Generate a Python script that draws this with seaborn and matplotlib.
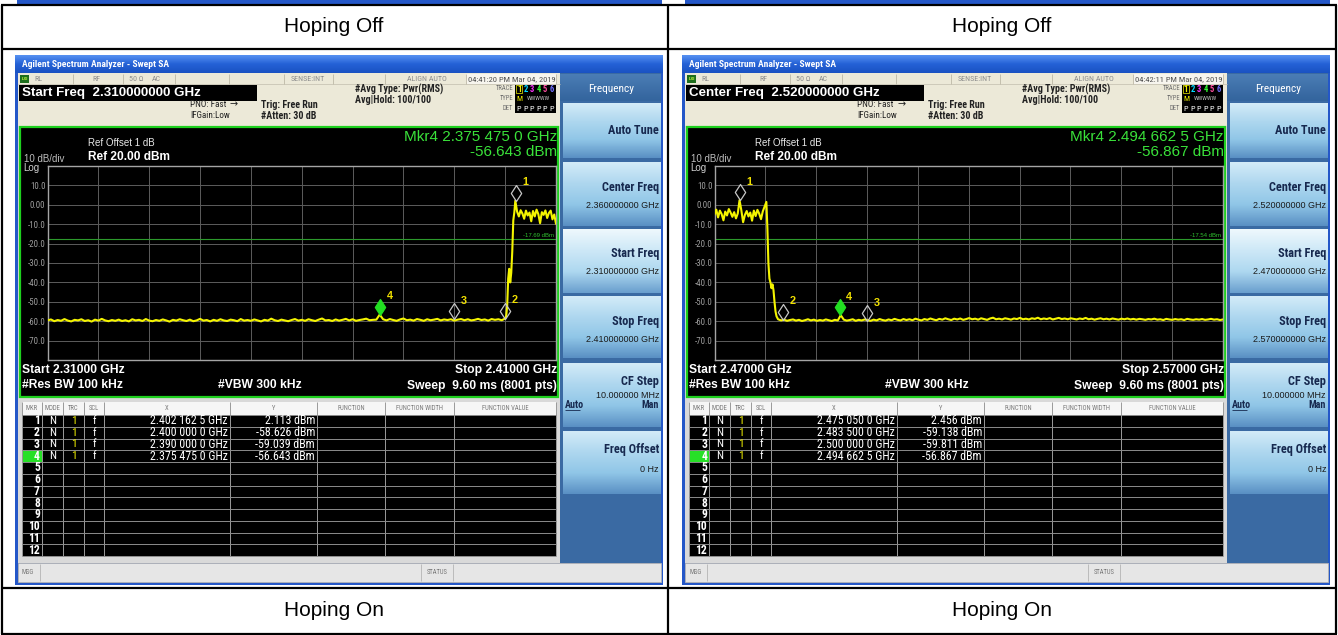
import numpy as np
import matplotlib
matplotlib.use("Agg")
import matplotlib.pyplot as plt
import seaborn as sns
from matplotlib import font_manager
from matplotlib.colors import to_rgb
from matplotlib.markers import MarkerStyle
from matplotlib.path import Path
from matplotlib.patches import Rectangle

sns.set_style("white")

# ---------------- values ----------------
captions_top = ["Hoping Off", "Hoping Off"]
captions_bottom = ["Hoping On", "Hoping On"]

# left screen (2.31 - 2.41 GHz)
L_span = [2.31, 2.41]
L_clock = "04:41:20 PM Mar 04, 2019"
L_active = "Start Freq  2.310000000 GHz"
L_keys = ["2.360000000 GHz", "2.310000000 GHz", "2.410000000 GHz"]
L_dl = -17.69
L_mk_f = [2.4021625, 2.4000000, 2.3900000, 2.3754750]
L_mk_v = [2.113, -58.626, -59.039, -56.643]
L_floor_end = 2.4000
L_floor = [
    -59.6, -59.1, -60.0, -59.4, -59.8, -58.9, -59.7, -60.1, -59.3, -59.6, -59.0, -59.9, -59.5, -60.2, -59.2, -59.7, -58.8, -59.6, -60.0, -59.4,
    -59.8, -59.2, -59.9, -59.5, -60.1, -59.0, -59.6, -59.3, -59.9, -58.9, -59.7, -60.0, -59.4, -59.8, -59.1, -59.6, -60.2, -59.3, -59.7, -59.0,
    -59.5, -59.9, -59.2, -60.0, -59.6, -58.8, -59.7, -59.4, -60.1, -59.3, -59.8, -59.0, -59.6, -59.9, -59.2, -59.5, -60.0, -58.9, -59.7, -59.4,
    -59.8, -59.1, -59.6, -60.1, -59.3, -59.7, -58.7, -59.5, -59.9, -59.2, -59.6, -60.0, -59.4, -58.9, -59.7, -59.3, -59.8, -59.0, -59.5, -59.9,
    -59.2, -58.6, -59.6, -59.4, -59.9, -59.1, -59.7, -59.3, -58.8, -59.6, -59.0, -59.8, -59.4, -59.1, -58.7, -59.5, -59.3, -59.2, -56.6, -59.0,
    -59.6, -58.9, -59.4, -59.8, -59.1, -58.6, -59.5, -59.2, -59.7, -58.9, -59.3, -59.8, -59.0, -59.5, -59.2, -58.8, -59.6, -59.1, -59.4, -59.0,
    -59.7, -59.2, -58.9, -59.5, -59.0, -59.6, -59.3, -58.8, -59.4, -59.1, -59.7, -58.9, -59.3, -59.0, -59.5, -58.6]
L_edge_f = [2.4002, 2.4004, 2.4006, 2.4008, 2.4010, 2.4012, 2.4014, 2.4016, 2.4018]
L_edge_v = [-57.5, -52.0, -38.0, -33.0, -40.0, -35.0, -24.0, -8.0, -4.0]
L_band_start = 2.4020
L_band = [2.1, -3.5, -6.0, -2.8, -4.5, -7.2, -3.0, -5.5, -4.0, -8.5, -3.2, -6.0,
          -2.5, -4.8, -9.5, -3.8, -5.2, -2.9, -6.8, -4.2, -3.0, -7.5, -5.0, -9.8]

# right screen (2.47 - 2.57 GHz)
R_span = [2.47, 2.57]
R_clock = "04:42:11 PM Mar 04, 2019"
R_active = "Center Freq  2.520000000 GHz"
R_keys = ["2.520000000 GHz", "2.470000000 GHz", "2.570000000 GHz"]
R_dl = -17.54
R_mk_f = [2.4750500, 2.4835000, 2.5000000, 2.4946625]
R_mk_v = [2.456, -59.138, -59.811, -56.867]
R_band_end = 2.4802
R_band = [-5.0, -2.5, -6.5, -3.0, -4.8, -8.0, -3.5, -5.5, -2.2, -4.0, -6.2, -3.8, -7.0, -4.5, 2.4,
          -2.8, -9.0, -5.2, -3.2, -6.0, -4.0, -8.2, -3.0, -5.8, -2.6, -4.6, -7.4, -3.4, -1.0, 1.5]
R_edge_f = [2.4804, 2.4806, 2.4808, 2.4810, 2.4812, 2.4814, 2.4816, 2.4818, 2.4820, 2.4822]
R_edge_v = [-12.0, -30.0, -38.0, -40.0, -43.0, -41.0, -44.0, -50.0, -55.0, -57.5]
R_floor_start = 2.4825
R_floor = [
    -59.0, -59.6, -59.2, -59.8, -59.4, -59.1, -59.7, -59.3, -59.9, -59.5, -59.0, -59.6, -59.2, -59.8, -59.4, -59.7, -59.1, -59.5, -59.9, -59.3,
    -59.6, -56.9, -59.2, -59.7, -59.4, -59.0, -59.8, -59.3, -59.6, -59.1, -59.5, -59.8, -59.2, -59.6, -58.9, -59.4, -59.7, -59.1, -59.5, -58.8,
    -59.3, -59.6, -58.9, -59.4, -59.0, -59.5, -58.7, -59.2, -59.6, -58.9, -59.3, -58.6, -59.1, -59.5, -58.8, -59.2, -58.5, -59.0, -59.4, -58.7,
    -59.1, -58.6, -59.3, -58.9, -58.4, -59.0, -58.7, -59.2, -58.5, -58.9, -59.3, -58.6, -58.2, -59.0, -58.7, -59.1, -58.5, -58.8, -59.2, -58.6,
    -58.9, -58.3, -59.0, -58.7, -59.1, -58.5, -58.8, -58.2, -59.0, -58.6, -58.9, -58.4, -59.1, -58.7, -58.3, -58.9, -58.6, -59.0, -58.5, -58.8,
    -59.1, -58.6, -58.9, -58.3, -59.0, -58.7, -59.2, -58.8, -58.5, -59.0, -58.7, -59.1, -58.6, -58.9, -59.2, -58.7, -59.0, -58.6, -59.1, -58.8,
    -59.2, -58.8, -59.0, -59.3, -58.9, -59.1, -58.7, -59.2, -59.0, -59.4, -58.8, -59.1, -59.3, -58.9, -59.2, -59.0, -59.4, -58.8, -59.1, -59.3,
    -59.0, -59.2, -58.9, -59.3, -59.1, -58.8, -59.2, -59.0, -59.4, -59.1]

key_titles = ["Auto Tune", "Center Freq", "Start Freq", "Stop Freq", "CF Step", "Freq Offset"]
tbl_head = ["MKR", "MODE", "TRC", "SCL", "X", "Y", "FUNCTION", "FUNCTION WIDTH", "FUNCTION VALUE"]

# ---------------- fonts ----------------
fonts = font_manager.fontManager.ttflist
names = {f.name for f in fonts}
SANS = "Liberation Sans"
STRETCH = "normal"
for nm in ["Liberation Sans Narrow", "DejaVu Sans Condensed", "Roboto Condensed", "Open Sans Condensed"]:
    if nm in names:
        NARROW, NK = nm, 1.0
        break
else:
    if any(f.name == "DejaVu Sans" and str(f.stretch) in ("condensed", "semi-condensed") for f in fonts):
        NARROW, NK, STRETCH = "DejaVu Sans", 0.9, "condensed"
    else:
        NARROW, NK = "Liberation Sans", 0.88
plt.rcParams["font.family"] = [SANS, "DejaVu Sans"]


def N(s):
    return s * NK


W, H = 1338, 635
fig = plt.figure(figsize=(W / 100, H / 100), dpi=100)
bg = fig.add_axes([0, 0, 1, 1], zorder=0)
bg.axis("off")
bg.set_autoscale_on(False)


def box(x0, y0, x1, y1, fc, ec="none", lw=0, z=1):
    bg.add_patch(Rectangle((x0, y0), x1 - x0, y1 - y0, fc=fc, ec=ec, lw=lw, zorder=z))


def grad(x0, y0, x1, y1, stops, z=1):
    cols = np.array([to_rgb(c) for c in stops])
    t = np.linspace(0, 1, 64)
    pos = np.linspace(0, 1, len(stops))
    img = np.stack([np.interp(t, pos, cols[:, k]) for k in range(3)], axis=1)[:, None, :]
    bg.imshow(img, extent=(x0, x1, y1, y0), aspect="auto", zorder=z, interpolation="bilinear")


def txt(x, y, s, size, color="white", ha="left", weight="normal", fam=None, z=6):
    kw = {"fontstretch": STRETCH} if fam == NARROW else {}
    bg.text(x, y, s, fontsize=size, color=color, ha=ha, va="center", fontweight=weight,
            family=fam or SANS, zorder=z, **kw)


def hline(x0, x1, y, c, lw=0.6, z=3):
    bg.plot([x0, x1], [y, y], color=c, lw=lw, zorder=z, solid_capstyle="butt")


def vline(x, y0, y1, c, lw=0.6, z=3):
    bg.plot([x, x], [y0, y1], color=c, lw=lw, zorder=z, solid_capstyle="butt")


def fmt_f(f):
    s = f"{f:.7f}"
    return f"{s[:5]} {s[5:8]} {s[8:]}"


# diamond marker with its lower tip on the data point
DIAMOND = MarkerStyle(Path([(0, 0), (0.65, 1), (0, 2), (-0.65, 1), (0, 0)],
                           [Path.MOVETO, Path.LINETO, Path.LINETO, Path.LINETO, Path.CLOSEPOLY]))

HDR_SEP = [73, 123, 175, 229, 284, 333, 385, 466, 556]
COLS = [22, 42, 63, 84, 104, 230, 317, 385, 454, 556]
BTN = [(103, 158), (162, 226), (229, 293), (296, 358), (363, 427), (431, 494)]


def screen(ox, clock, active, keys, span, dl, mk_f, mk_v, tf, tv):
    # window frame and title bar
    box(ox + 15, 55, ox + 663, 585, "#2457c8")
    grad(ox + 15, 55, ox + 663, 73, ["#5792f2", "#2461d6", "#1a52c2"])
    txt(ox + 22, 64.5, "Agilent Spectrum Analyzer - Swept SA", N(6.8), "white", weight="bold", fam=NARROW)

    # top status strip
    box(ox + 18, 73, ox + 560, 126, "#ece9d8")
    box(ox + 18, 126, ox + 560, 563, "#d9d9d9")
    hline(ox + 18, ox + 560, 84, "#c9c5b5")
    for sx in HDR_SEP:
        vline(ox + sx, 74, 84, "#bdb8a6")
    box(ox + 466, 74, ox + 556, 84, "#f7f5ee", z=2)
    box(ox + 20, 75, ox + 29, 83, "#1d6e1d", z=2)
    txt(ox + 24.5, 79, "LXI", 3.0, "#c8ff40", ha="center", weight="bold")
    for x, s, ha in [(34, "RL", "left"), (96, "RF", "center"), (136, "50 \u03a9", "center"),
                     (156, "AC", "center"), (308, "SENSE:INT", "center"), (427, "ALIGN AUTO", "center")]:
        txt(ox + x, 79, s, N(5.8), "#8c8c8c", ha=ha, fam=NARROW)
    txt(ox + 468, 79, clock, N(6.1), "#505050", fam=NARROW)

    box(ox + 19, 85, ox + 257, 101, "black", z=2)
    txt(ox + 22, 93, active, 9.6, "white", weight="bold")
    txt(ox + 190, 104.5, "PNO: Fast", N(6.6), "#222222", fam=NARROW)
    bg.text(ox + 230, 104.5, "\u2192", fontsize=7, color="#222222", ha="left", va="center",
            family=["DejaVu Sans"], zorder=6)
    txt(ox + 190, 116, "IFGain:Low", N(6.6), "#222222", fam=NARROW)
    txt(ox + 261, 104.5, "Trig: Free Run", N(7.2), "#222222", weight="bold", fam=NARROW)
    txt(ox + 261, 116, "#Atten: 30 dB", N(7.2), "#222222", weight="bold", fam=NARROW)
    txt(ox + 355, 89, "#Avg Type: Pwr(RMS)", N(7.2), "#222222", weight="bold", fam=NARROW)
    txt(ox + 355, 100, "Avg|Hold: 100/100", N(7.2), "#222222", weight="bold", fam=NARROW)
    for yy, s in [(89, "TRACE"), (99, "TYPE"), (109, "DET")]:
        txt(ox + 513, yy, s, N(4.8), "#6e6e6e", ha="right", fam=NARROW)
    box(ox + 515, 85, ox + 556, 113, "black", z=2)
    for k, c in enumerate(["#f0f000", "#00d8ff", "#ff33ff", "#33ff33", "#ff4fa0", "#6f6fff"]):
        txt(ox + 519 + k * 6.5, 89, str(k + 1), N(6.2), c, ha="center", weight="bold", fam=NARROW)
    bg.add_patch(Rectangle((ox + 516, 85), 6.3, 8, fc="none", ec="#f0f000", lw=0.5, zorder=7))
    txt(ox + 519, 99, "M", N(5.8), "#f0f000", ha="center", fam=NARROW)
    txt(ox + 538.5, 99, "WWWWW", N(4.4), "#bbbbbb", ha="center", fam=NARROW)
    for k in range(6):
        txt(ox + 519 + k * 6.5, 109, "P", N(6.0), "white", ha="center", fam=NARROW)

    # trace display frame
    box(ox + 20, 127, ox + 558, 397, "black", ec="#1ed01e", lw=1.6, z=2)
    txt(ox + 88, 143, "Ref Offset 1 dB", 7.0, "#e8e8e8")
    txt(ox + 24, 158.5, "10 dB/div", 7.0, "#bdbdbd")
    txt(ox + 88, 157, "Ref 20.00 dBm", 8.6, "white", weight="bold")
    txt(ox + 23, 168, "Log", 7.0, "#d0d0d0")
    txt(ox + 557, 137, f"Mkr4 {fmt_f(mk_f[3])} GHz", 11.0, "#3ae23a", ha="right")
    txt(ox + 557, 152.5, f"{mk_v[3]:.3f} dBm", 11.0, "#3ae23a", ha="right")
    txt(ox + 22, 370, f"Start {span[0]:.5f} GHz", 8.7, "white", weight="bold")
    txt(ox + 557, 370, f"Stop {span[1]:.5f} GHz", 8.7, "white", ha="right", weight="bold")
    txt(ox + 22, 385.5, "#Res BW 100 kHz", 8.7, "white", weight="bold")
    txt(ox + 260, 385.5, "#VBW 300 kHz", 8.7, "white", ha="center", weight="bold")
    txt(ox + 557, 385.5, "Sweep  9.60 ms (8001 pts)", 8.7, "white", ha="right", weight="bold")

    gx0, gy0, gx1, gy1 = ox + 47.5, 166, ox + 556, 360
    ax = fig.add_axes([gx0 / W, 1 - gy1 / H, (gx1 - gx0) / W, (gy1 - gy0) / H], zorder=3)
    ax.set_facecolor("black")
    sns.lineplot(x=tf, y=tv, ax=ax, color="#f4f400", linewidth=1.5, estimator=None, sort=False, zorder=3)
    ax.axhline(dl, color="#2c9a2c", lw=0.8, zorder=2)
    ax.text(span[1] - 0.0004, dl + 0.6, f"{dl:.2f} dBm", color="#2fbf2f", fontsize=4.3,
            ha="right", va="bottom", zorder=4)
    for i, (f, v) in enumerate(zip(mk_f, mk_v)):
        active_mk = i == 3
        ax.plot([f], [v], marker=DIAMOND, ms=23, mfc="#22e022" if active_mk else "none",
                mec="#22e022" if active_mk else "#c8c8c8", mew=0.9, ls="none", zorder=5)
        ax.annotate(str(i + 1), (f, v), xytext=(4.5, 11), textcoords="offset points",
                    color="#f0e000", fontsize=7.8, fontweight="bold", zorder=6)
    ax.set_xlim(span)
    ax.set_ylim(-80, 20)
    ax.set_xticks(np.linspace(span[0], span[1], 11))
    ax.set_yticks(np.arange(-80, 21, 10))
    ax.set_xticklabels([])
    ax.set_yticklabels(["" if y in (-80, 20) else ("0.00" if y == 0 else f"{y:.1f}")
                        for y in np.arange(-80, 21, 10)])
    ax.tick_params(axis="both", length=0, pad=1.5)
    ax.tick_params(axis="y", labelsize=N(6.4), labelcolor="#9e9e9e")
    for lab in ax.get_yticklabels():
        lab.set_family(NARROW)
        lab.set_stretch(STRETCH)
    ax.grid(True, color="#5c5c5c", lw=0.7)
    for sp in ax.spines.values():
        sp.set_color("#a5a5a5")
        sp.set_linewidth(1.0)
    ax.set_xlabel("")
    ax.set_ylabel("")

    # marker table
    box(ox + 22, 402, ox + 556, 415, "#f6f6f6", z=2)
    box(ox + 22, 415, ox + 556, 556, "black", z=2)
    for k, name in enumerate(tbl_head):
        txt(ox + (COLS[k] + COLS[k + 1]) / 2, 408.5, name, N(4.8), "#7a7a7a", ha="center", fam=NARROW)
    for cx in COLS:
        vline(ox + cx, 402, 556, "#9a9a9a", lw=0.7)
    rh = (556 - 415) / 12
    for r in range(13):
        hline(ox + 22, ox + 556, 415 + r * rh, "#8c8c8c", lw=0.7)
    box(ox + 22.5, 415 + 3 * rh, ox + 41.5, 415 + 4 * rh, "#27e027", z=2.5)
    for r in range(12):
        yc = 415 + (r + 0.5) * rh
        txt(ox + 40, yc, str(r + 1), N(8.4), "white", ha="right", weight="bold", fam=NARROW)
        if r < 4:
            txt(ox + 52.5, yc, "N", N(8.2), "white", ha="center", fam=NARROW)
            txt(ox + 73.5, yc, "1", N(8.2), "#f0f000", ha="center", fam=NARROW)
            txt(ox + 94, yc, "f", N(8.2), "white", ha="center", fam=NARROW)
            txt(ox + 228, yc, f"{fmt_f(mk_f[r])} GHz", N(8.6), "white", ha="right", fam=NARROW)
            txt(ox + 315, yc, f"{mk_v[r]:.3f} dBm", N(8.6), "white", ha="right", fam=NARROW)

    # softkey panel
    box(ox + 560, 73, ox + 661, 563, "#3a6aa3")
    grad(ox + 560, 74, ox + 661, 101, ["#4b7db5", "#33649d"])
    txt(ox + 611, 88.5, "Frequency", N(8.2), "white", ha="center", fam=NARROW)
    vals = [None, keys[0], keys[1], keys[2], "10.000000 MHz", "0 Hz"]
    for i, ((y0, y1), title, val) in enumerate(zip(BTN, key_titles, vals)):
        stops = ["#eef8fd", "#cde8f7", "#aed8f0", "#6a9fce"] if i == 2 else \
                ["#d3ebf8", "#aed7ef", "#90c6e7", "#5a90c4"]
        grad(ox + 563, y0, ox + 661, y1, stops, z=2)
        if i == 0:
            txt(ox + 659, (y0 + y1) / 2, title, N(8.8), "#17294f", ha="right", weight="bold", fam=NARROW)
        elif i == 4:
            txt(ox + 659, y0 + 19, title, N(8.8), "#17294f", ha="right", weight="bold", fam=NARROW)
            txt(ox + 659, y0 + 32, val, 6.5, "#1b1b1b", ha="right")
            txt(ox + 565, y0 + 42.5, "Auto", N(7.2), "#17294f", weight="bold", fam=NARROW)
            hline(ox + 565, ox + 580, y0 + 47, "#17294f", lw=0.6, z=6)
            txt(ox + 659, y0 + 42.5, "Man", N(7.2), "#17294f", ha="right", weight="bold", fam=NARROW)
        elif i == 5:
            txt(ox + 659, y0 + 19, title, N(8.8), "#17294f", ha="right", weight="bold", fam=NARROW)
            txt(ox + 659, y0 + 39, val, 6.5, "#1b1b1b", ha="right")
        else:
            txt(ox + 659, y0 + 25, title, N(8.8), "#17294f", ha="right", weight="bold", fam=NARROW)
            txt(ox + 659, y0 + 43, val, 6.5, "#1b1b1b", ha="right")

    # message bar
    box(ox + 18, 563, ox + 661, 582, "#e6e6e6", ec="#b4b4b4", lw=0.6, z=2)
    vline(ox + 40, 564, 581, "#b4b4b4")
    vline(ox + 421, 564, 581, "#b4b4b4")
    vline(ox + 453, 564, 581, "#b4b4b4")
    txt(ox + 22, 572.5, "MSG", N(4.8), "#777777", fam=NARROW)
    txt(ox + 437, 572.5, "STATUS", N(4.8), "#777777", ha="center", fam=NARROW)


L_f = np.r_[np.linspace(L_span[0], L_floor_end, len(L_floor)), L_edge_f,
            np.linspace(L_band_start, L_span[1], len(L_band))]
L_v = np.r_[L_floor, L_edge_v, L_band]
R_f = np.r_[np.linspace(R_span[0], R_band_end, len(R_band)), R_edge_f,
            np.linspace(R_floor_start, R_span[1], len(R_floor))]
R_v = np.r_[R_band, R_edge_v, R_floor]

# remnant of the row above
box(17, 0, 662, 3.5, "#2457c8")
box(685, 0, 1330, 3.5, "#2457c8")

screen(0, L_clock, L_active, L_keys, L_span, L_dl, L_mk_f, L_mk_v, L_f, L_v)
screen(667, R_clock, R_active, R_keys, R_span, R_dl, R_mk_f, R_mk_v, R_f, R_v)

# outer table grid and captions
for y in [4.5, 49, 588, 633.5]:
    hline(1, 1337, y, "black", lw=1.6, z=8)
for x in [2, 668, 1336]:
    vline(x, 4.5, 633.5, "black", lw=1.6, z=8)
for cx, a, b in zip([334, 1002], captions_top, captions_bottom):
    txt(cx, 27, a, 15, "black", ha="center")
    txt(cx, 611, b, 15, "black", ha="center")

bg.set_xlim(0, W)
bg.set_ylim(H, 0)
fig.savefig("out.png", dpi=100, facecolor="white")
